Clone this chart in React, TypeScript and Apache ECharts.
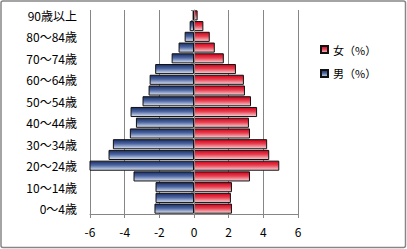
import React, { useEffect, useRef } from "react";
import * as echarts from "echarts";

const categories = [
  "0～4歳", "5～9歳", "10～14歳", "15～19歳", "20～24歳", "25～29歳", "30～34歳",
  "35～39歳", "40～44歳", "45～49歳", "50～54歳", "55～59歳", "60～64歳", "65～69歳",
  "70～74歳", "75～79歳", "80～84歳", "85～89歳", "90歳以上",
];
const maleValues = [
  2.28, 2.22, 2.22, 3.49, 6.05, 4.93, 4.68, 3.70, 3.35, 3.66,
  2.97, 2.62, 2.56, 2.24, 1.29, 0.89, 0.54, 0.25, 0.08,
];
const femaleValues = [
  2.19, 2.13, 2.19, 3.23, 4.92, 4.34, 4.22, 3.23, 3.17, 3.64,
  3.29, 2.94, 2.88, 2.42, 1.72, 1.20, 0.91, 0.54, 0.21,
];
const seriesNames = ["女（%）", "男（%）"];
const xTicks = { min: -6, max: 6, interval: 2 };

const FONT = '"Noto Sans CJK JP", "Noto Sans", sans-serif';

export default function App() {
  const ref = useRef<HTMLDivElement>(null);
  useEffect(() => {
    if (!ref.current) return;
    const chart = echarts.init(ref.current, undefined, { renderer: "svg" });
    const maleFill = new echarts.graphic.LinearGradient(0, 0, 0, 1, [
      { offset: 0, color: "#1a2e62" },
      { offset: 0.45, color: "#4d67a3" },
      { offset: 1, color: "#dfe5f2" },
    ]);
    const femaleFill = new echarts.graphic.LinearGradient(0, 0, 0, 1, [
      { offset: 0, color: "#d0001a" },
      { offset: 0.45, color: "#e84050" },
      { offset: 1, color: "#f6d6da" },
    ]);
    chart.setOption({
      animation: false,
      textStyle: { fontFamily: FONT },
      graphic: [
        {
          type: "rect",
          shape: { x: 1, y: 1, width: 404.5, height: 246.5, r: 2 },
          style: { fill: "none", stroke: "#868686", lineWidth: 1.5 },
          silent: true,
        },
      ],
      grid: { left: 90, right: 109, top: 10, bottom: 35 },
      legend: {
        data: seriesNames,
        orient: "vertical",
        left: 315,
        top: 39,
        itemWidth: 7,
        itemHeight: 7,
        itemGap: 13,
        icon: "rect",
        textStyle: { fontSize: 11, color: "#000", fontFamily: FONT },
      },
      xAxis: {
        type: "value",
        min: xTicks.min,
        max: xTicks.max,
        interval: xTicks.interval,
        axisLine: { show: true, lineStyle: { color: "#868686", width: 1 } },
        axisTick: { show: true, length: 4, lineStyle: { color: "#868686" } },
        axisLabel: { fontSize: 12, color: "#000", margin: 11, fontFamily: FONT },
        splitLine: { show: true, lineStyle: { color: "#868686", width: 1 } },
      },
      yAxis: [
        {
          type: "category",
          data: categories,
          position: "left",
          axisLine: { show: false, onZero: false },
          axisTick: { show: false },
          axisLabel: {
            interval: 1,
            fontSize: 12,
            color: "#000",
            margin: 13,
            fontFamily: FONT,
          },
        },
        {
          type: "category",
          data: categories,
          position: "left",
          z: 10,
          axisLine: { show: true, onZero: true, lineStyle: { color: "#868686", width: 1 } },
          axisTick: { show: true, length: 3, lineStyle: { color: "#868686" } },
          axisLabel: { show: false },
        },
      ],
      series: [
        {
          name: seriesNames[0],
          type: "bar",
          stack: "total",
          data: femaleValues,
          barCategoryGap: "6%",
          itemStyle: { color: femaleFill, borderColor: "#111", borderWidth: 1 },
        },
        {
          name: seriesNames[1],
          type: "bar",
          stack: "total",
          data: maleValues.map((v) => -v),
          barCategoryGap: "6%",
          itemStyle: { color: maleFill, borderColor: "#111", borderWidth: 1 },
        },
      ],
    });
    return () => chart.dispose();
  }, []);
  return (
    <div
      ref={ref}
      style={{ position: "fixed", left: 0, top: 0, width: 407, height: 249, background: "#fff" }}
    />
  );
}
